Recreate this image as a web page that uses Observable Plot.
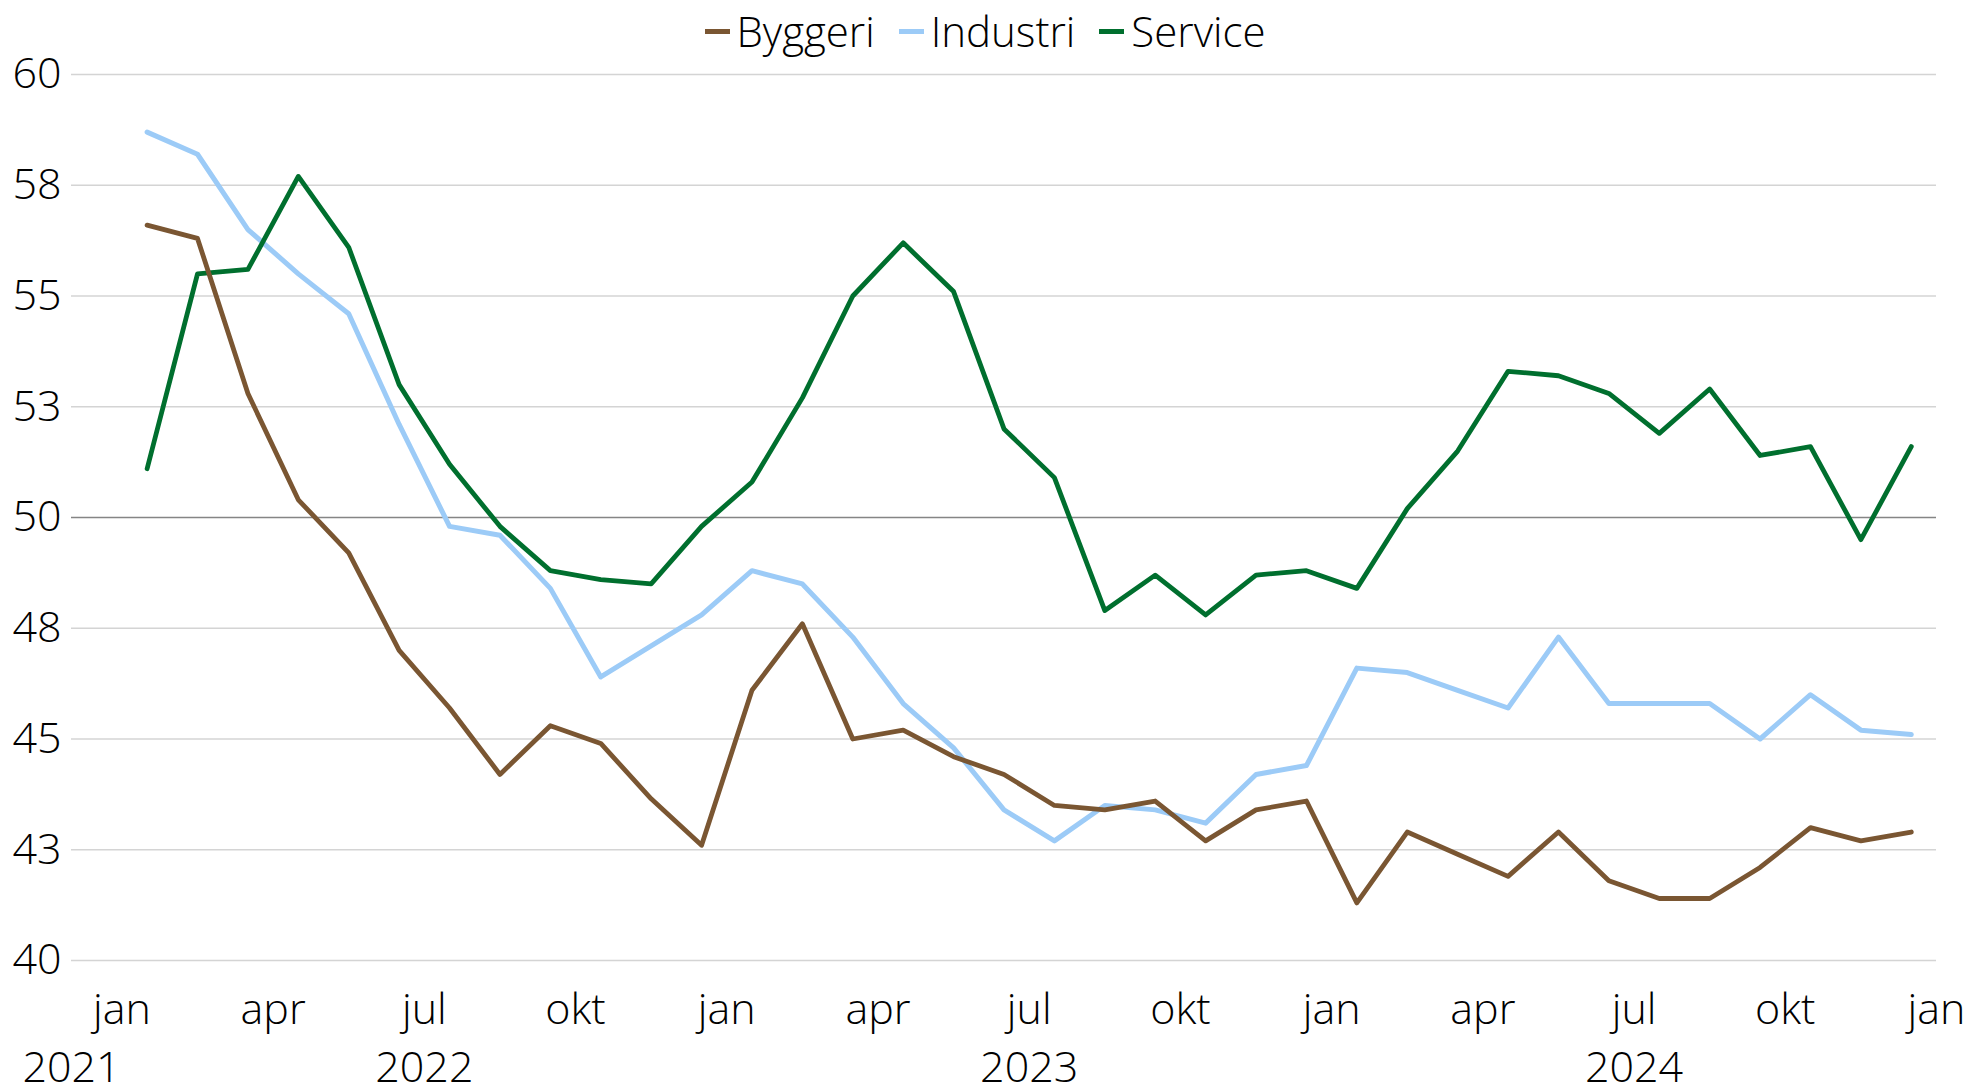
<!DOCTYPE html>
<html><head><meta charset="utf-8">
<script src="https://cdn.jsdelivr.net/npm/d3@7"></script>
<script src="https://cdn.jsdelivr.net/npm/@observablehq/plot@0.6"></script>
<style>
html,body{margin:0;padding:0;background:#fff;}
body{width:1970px;height:1087px;overflow:hidden;font-family:"Open Sans",sans-serif;font-weight:300;color:#000;}
#legend{height:62px;display:flex;justify-content:center;align-items:center;font-size:42px;line-height:1;}
.item{display:flex;align-items:center;margin:0 12px;}
.sw{width:25px;height:5px;margin-right:7px;}
#chart svg{display:block;}
</style></head><body>
<div id="legend"></div>
<div id="chart"></div>
<script>
const months = ["2022-01","2022-02","2022-03","2022-04","2022-05","2022-06","2022-07","2022-08","2022-09","2022-10","2022-11","2022-12",
"2023-01","2023-02","2023-03","2023-04","2023-05","2023-06","2023-07","2023-08","2023-09","2023-10","2023-11","2023-12",
"2024-01","2024-02","2024-03","2024-04","2024-05","2024-06","2024-07","2024-08","2024-09","2024-10","2024-11","2024-12"];
const byggeri = [56.6,56.3,52.8,50.4,49.2,47.0,45.7,44.2,45.3,44.9,43.65,42.6,
46.1,47.6,45.0,45.2,44.6,44.2,43.5,43.4,43.6,42.7,43.4,43.6,
41.3,42.9,42.4,41.9,42.9,41.8,41.4,41.4,42.1,43.0,42.7,42.9];
const industri = [58.7,58.2,56.5,55.5,54.6,52.1,49.8,49.6,48.4,46.4,47.1,47.8,
48.8,48.5,47.3,45.8,44.8,43.4,42.7,43.5,43.4,43.1,44.2,44.4,
46.6,46.5,46.1,45.7,47.3,45.8,45.8,45.8,45.0,46.0,45.2,45.1];
const service = [51.1,55.5,55.6,57.7,56.1,53.0,51.2,49.8,48.8,48.6,48.5,49.8,
50.8,52.7,55.0,56.2,55.1,52.0,50.9,47.9,48.7,47.8,48.7,48.8,
48.4,50.2,51.5,53.3,53.2,52.8,51.9,52.9,51.4,51.6,49.5,51.6];
const seriesNames = ["Byggeri","Industri","Service"];
const seriesColors = ["#7a5632","#9ccbf7","#006f2e"];
const yTicks = [40,42.5,45,47.5,50,52.5,55,57.5,60];
const monthTickPos = [0,3,6,9,12,15,18,21,24,27,30,33,36];
const monthTickLabels = ["jan","apr","jul","okt","jan","apr","jul","okt","jan","apr","jul","okt","jan"];
const yearTickPos = [-1,6,18,30];
const yearTickLabels = ["2021","2022","2023","2024"];

const seriesValues = [byggeri, industri, service];
const rows = seriesNames.map((name, s) => months.map((m, i) => ({series: name, month: m, idx: i + 0.5, value: seriesValues[s][i]})));

// legend
const legend = document.getElementById("legend");
seriesNames.forEach((n, k) => {
  const it = document.createElement("div"); it.className = "item";
  const sw = document.createElement("span"); sw.className = "sw"; sw.style.background = seriesColors[k];
  const tx = document.createElement("span"); tx.textContent = n;
  it.appendChild(sw); it.appendChild(tx); legend.appendChild(it);
});

const fontFam = '"Open Sans", sans-serif';
const chart = Plot.plot({
  width: 1970,
  height: 1025,
  marginTop: 12,
  marginBottom: 127,
  marginLeft: 71,
  marginRight: 34,
  style: {fontFamily: fontFam, fontSize: "42px", fontWeight: 300, color: "#000", background: "#fff", overflow: "visible"},
  x: {type: "linear", domain: [-1, 36], axis: null, label: null},
  y: {domain: [40, 60], axis: null, label: null},
  marks: [
    Plot.ruleY(yTicks.filter(d => d !== 50), {stroke: "#d4d4d4", strokeWidth: 1.5}),
    Plot.ruleY([50], {stroke: "#858585", strokeWidth: 1.5}),
    Plot.axisY({ticks: yTicks, tickFormat: d => String(Math.round(d)), tickSize: 0, tickPadding: 10, fontSize: 43, label: null}),
    Plot.axisX({ticks: monthTickPos, tickFormat: d => monthTickLabels[monthTickPos.indexOf(d)], tickSize: 0, tickPadding: 33, fontSize: 43, label: null}),
    Plot.axisX({ticks: yearTickPos, tickFormat: d => yearTickLabels[yearTickPos.indexOf(d)], tickSize: 0, tickPadding: 91, fontSize: 43, label: null}),
    Plot.line(rows[1], {x: "idx", y: "value", stroke: seriesColors[1], strokeWidth: 5}),
    Plot.line(rows[2], {x: "idx", y: "value", stroke: seriesColors[2], strokeWidth: 4.8}),
    Plot.line(rows[0], {x: "idx", y: "value", stroke: seriesColors[0], strokeWidth: 4.8})
  ]
});
document.getElementById("chart").appendChild(chart);
</script>
</body></html>
